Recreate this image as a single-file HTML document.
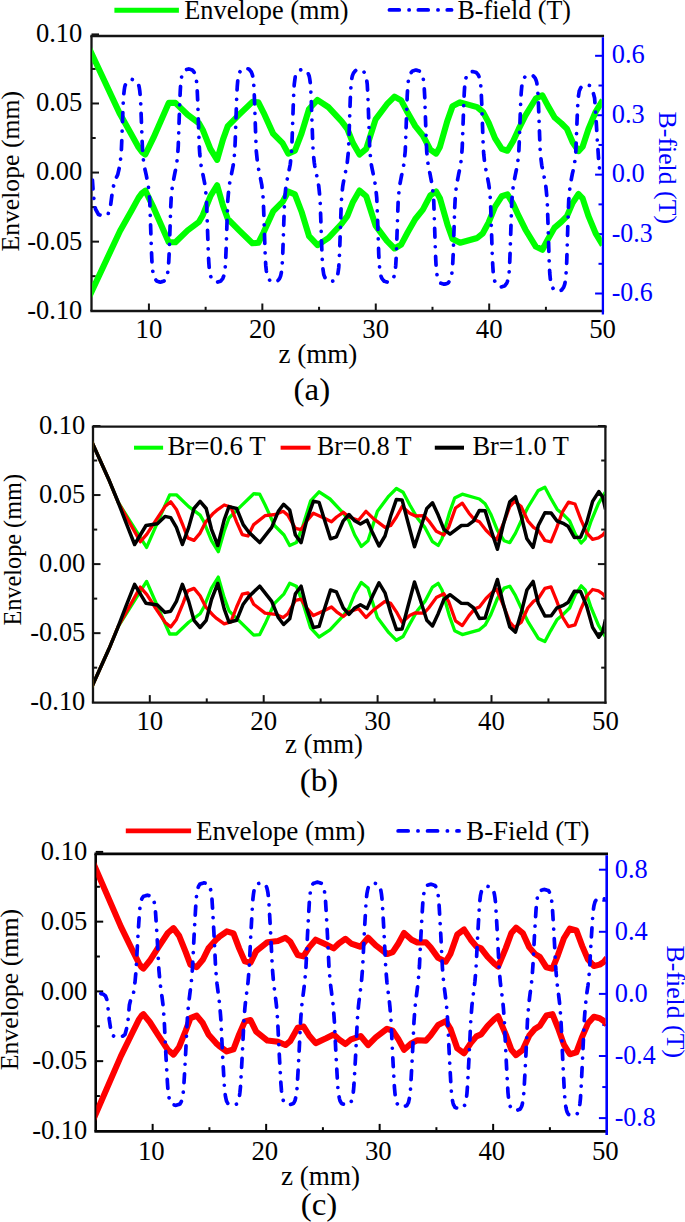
<!DOCTYPE html>
<html lang="en"><head><meta charset="utf-8"><title>Envelope and B-field</title>
<style>html,body{margin:0;padding:0;background:#fff}body{width:685px;height:1222px;overflow:hidden}svg{display:block}text{font-family:'Liberation Serif', 'DejaVu Serif', serif}</style>
</head><body>
<svg width="685" height="1222" viewBox="0 0 685 1222">
<rect width="685" height="1222" fill="#fff"/>
<g fill="none" stroke-linecap="butt">
<line x1="90.35" y1="36" x2="604.05" y2="36" stroke="#141414" stroke-width="2.3" />
<line x1="90.35" y1="311" x2="604.05" y2="311" stroke="#141414" stroke-width="2.3" />
<line x1="91.5" y1="36" x2="91.5" y2="311" stroke="#141414" stroke-width="2.3" />
<line x1="602.9" y1="37.15" x2="602.9" y2="314.55" stroke="#0000ff" stroke-width="2.3" />
<line x1="91.5" y1="34.4" x2="99" y2="34.4" stroke="#141414" stroke-width="2" />
<line x1="91.5" y1="68.94" x2="95.7" y2="68.94" stroke="#141414" stroke-width="2" />
<line x1="91.5" y1="103.48" x2="99" y2="103.48" stroke="#141414" stroke-width="2" />
<line x1="91.5" y1="138.02" x2="95.7" y2="138.02" stroke="#141414" stroke-width="2" />
<line x1="91.5" y1="172.56" x2="99" y2="172.56" stroke="#141414" stroke-width="2" />
<line x1="91.5" y1="207.1" x2="95.7" y2="207.1" stroke="#141414" stroke-width="2" />
<line x1="91.5" y1="241.64" x2="99" y2="241.64" stroke="#141414" stroke-width="2" />
<line x1="91.5" y1="276.18" x2="95.7" y2="276.18" stroke="#141414" stroke-width="2" />
<line x1="148.92" y1="311" x2="148.92" y2="303.5" stroke="#141414" stroke-width="2" />
<line x1="205.63" y1="311" x2="205.63" y2="306.8" stroke="#141414" stroke-width="2" />
<line x1="262.35" y1="311" x2="262.35" y2="303.5" stroke="#141414" stroke-width="2" />
<line x1="319.06" y1="311" x2="319.06" y2="306.8" stroke="#141414" stroke-width="2" />
<line x1="375.77" y1="311" x2="375.77" y2="303.5" stroke="#141414" stroke-width="2" />
<line x1="432.49" y1="311" x2="432.49" y2="306.8" stroke="#141414" stroke-width="2" />
<line x1="489.2" y1="311" x2="489.2" y2="303.5" stroke="#141414" stroke-width="2" />
<line x1="545.92" y1="311" x2="545.92" y2="306.8" stroke="#141414" stroke-width="2" />
<line x1="602.9" y1="55.8" x2="595.1" y2="55.8" stroke="#0000ff" stroke-width="2" />
<line x1="602.9" y1="85.52" x2="598.5" y2="85.52" stroke="#0000ff" stroke-width="2" />
<line x1="602.9" y1="115.23" x2="595.1" y2="115.23" stroke="#0000ff" stroke-width="2" />
<line x1="602.9" y1="144.94" x2="598.5" y2="144.94" stroke="#0000ff" stroke-width="2" />
<line x1="602.9" y1="174.66" x2="595.1" y2="174.66" stroke="#0000ff" stroke-width="2" />
<line x1="602.9" y1="204.38" x2="598.5" y2="204.38" stroke="#0000ff" stroke-width="2" />
<line x1="602.9" y1="234.09" x2="595.1" y2="234.09" stroke="#0000ff" stroke-width="2" />
<line x1="602.9" y1="263.81" x2="598.5" y2="263.81" stroke="#0000ff" stroke-width="2" />
<line x1="602.9" y1="293.52" x2="595.1" y2="293.52" stroke="#0000ff" stroke-width="2" />
</g>
<clipPath id="clipa"><rect x="92.2" y="37.1" width="509.6" height="272.8"/></clipPath>
<g clip-path="url(#clipa)" fill="none" stroke-linejoin="round">
<path d="M89 48 L120 114.1 L132 135.4 L138.5 147.2 L142 152 L145.3 154.5 L153.6 137.43 L168.73 102.92 L175.41 102.92 L187.65 114.72 L199.01 123.23 L202.79 129.93 L210.36 148.84 L217.13 159.84 L223.01 139.34 L227.79 126.13 L239.14 114.72 L252.39 101.82 L258.36 102.32 L263.64 112.82 L273.1 133.63 L282.56 143.14 L288.24 153.64 L294.91 150.74 L301.48 133.63 L309.05 109.02 L317.52 99.92 L328.37 107.12 L341.62 121.33 L347.29 128.93 L352.97 143.14 L359.54 154.54 L366.21 148.84 L375.58 119.43 L386.93 104.22 L394.5 96.62 L401.17 100.42 L407.74 112.82 L415.31 126.13 L422.88 135.53 L430.45 149.84 L436.12 153.64 L439.91 146.94 L447.48 120.43 L452.56 106.12 L460.13 102.32 L477.15 107.12 L482.83 111.82 L488.51 122.33 L495.08 138.44 L501.75 148.84 L507.43 150.74 L513.11 141.24 L518.78 128.93 L525.36 115.63 L535.81 98.52 L542.38 95.32 L548.06 106.12 L554.63 117.53 L561.31 123.23 L566.98 128.93 L572.66 142.24 L578.53 151.14 L582.62 146.74 L588.39 129.23 L595.66 111.72 L602.73 100.02" stroke="#00ff00" stroke-width="6.1"/>
<path d="M89 297.1 L120 231 L132 209.7 L138.5 197.9 L142 193.1 L145.3 190.6 L153.6 207.67 L168.73 242.18 L175.41 242.18 L187.65 230.38 L199.01 221.87 L202.79 215.17 L210.36 196.26 L217.13 185.26 L223.01 205.76 L227.79 218.97 L239.14 230.38 L252.39 243.28 L258.36 242.78 L263.64 232.28 L273.1 211.47 L282.56 201.96 L288.24 191.46 L294.91 194.36 L301.48 211.47 L309.05 236.08 L317.52 245.18 L328.37 237.98 L341.62 223.77 L347.29 216.17 L352.97 201.96 L359.54 190.56 L366.21 196.26 L375.58 225.67 L386.93 240.88 L394.5 248.48 L401.17 244.68 L407.74 232.28 L415.31 218.97 L422.88 209.57 L430.45 195.26 L436.12 191.46 L439.91 198.16 L447.48 224.67 L452.56 238.98 L460.13 242.78 L477.15 237.98 L482.83 233.28 L488.51 222.77 L495.08 206.66 L501.75 196.26 L507.43 194.36 L513.11 203.86 L518.78 216.17 L525.36 229.47 L535.81 246.58 L542.38 249.78 L548.06 238.98 L554.63 227.57 L561.31 221.87 L566.98 216.17 L572.66 202.86 L578.53 193.96 L582.62 198.36 L588.39 215.87 L595.66 233.38 L602.73 245.08" stroke="#00ff00" stroke-width="6.1"/>
<path d="M92.4 180 L93.5 196 L95.5 209 L98.5 214.5 L103 216 L108 214.5 L110.5 206 L112.6 190 L115 180 L117.75 174.7 L118.25 172.46 L118.75 170.23 L119.25 167.99 L119.75 165.75 L120.25 161.94 L120.75 157.58 L121.25 153.22 L121.75 141.13 L122.25 128.19 L122.75 114.81 L123.25 102.5 L123.75 94.45 L124.25 90.1 L124.75 86.74 L125.25 85.13 L125.75 83.96 L126.25 82.78 L126.75 82.2 L127.25 81.64 L127.75 81.08 L128.25 80.52 L128.75 80.26 L129.25 80.12 L129.75 79.99 L130.25 79.86 L130.75 79.72 L131.25 79.59 L131.75 79.45 L132.25 79.48 L132.75 79.61 L133.25 79.75 L133.75 79.88 L134.25 80.02 L134.75 80.15 L135.25 80.29 L135.75 80.63 L136.25 81.19 L136.75 81.75 L137.25 82.31 L137.75 83.02 L138.25 84.19 L138.75 85.37 L139.25 87.41 L139.75 90.77 L140.25 96.06 L140.75 104.11 L141.25 117.49 L141.75 130.78 L142.25 143.72 L142.75 154.09 L143.25 158.45 L143.75 162.81 L144.25 166.2 L144.75 168.44 L145.25 170.67 L145.75 172.91 L146.25 175.2 L146.75 177.73 L147.25 180.25 L147.75 182.78 L148.25 185.3 L148.75 190.08 L149.25 195 L149.75 200.89 L150.25 215.49 L150.75 230.15 L151.25 245.29 L151.75 257.96 L152.25 267.04 L152.75 270.89 L153.25 274.67 L153.75 276 L154.25 277.32 L154.75 278.54 L155.25 279.17 L155.75 279.8 L156.25 280.43 L156.75 281.06 L157.25 281.26 L157.75 281.41 L158.25 281.56 L158.75 281.72 L159.25 281.87 L159.75 282.02 L160.25 282.17 L160.75 282.08 L161.25 281.93 L161.75 281.78 L162.25 281.62 L162.75 281.47 L163.25 281.32 L163.75 281.17 L164.25 280.68 L164.75 280.05 L165.25 279.42 L165.75 278.79 L166.25 277.85 L166.75 276.53 L167.25 275.2 L167.75 272.4 L168.25 268.62 L168.75 261.59 L169.25 251.34 L169.75 236.2 L170.25 221.33 L170.75 206.73 L171.25 196.96 L171.75 192.04 L172.25 187.12 L172.75 183.78 L173.25 181.26 L173.75 178.74 L174.25 176.21 L174.75 173.71 L175.25 171.22 L175.75 168.74 L176.25 166.26 L176.75 163.44 L177.25 158.6 L177.75 153.76 L178.25 146.06 L178.75 131.69 L179.25 117.15 L179.75 102.25 L180.25 90.97 L180.75 83.01 L181.25 79.29 L181.75 76.05 L182.25 74.74 L182.75 73.44 L183.25 72.38 L183.75 71.76 L184.25 71.14 L184.75 70.52 L185.25 69.94 L185.75 69.79 L186.25 69.65 L186.75 69.5 L187.25 69.35 L187.75 69.2 L188.25 69.05 L188.75 68.9 L189.25 69.05 L189.75 69.2 L190.25 69.35 L190.75 69.5 L191.25 69.65 L191.75 69.79 L192.25 69.94 L192.75 70.52 L193.25 71.14 L193.75 71.76 L194.25 72.38 L194.75 73.44 L195.25 74.74 L195.75 76.05 L196.25 79.29 L196.75 83.01 L197.25 90.97 L197.75 102.25 L198.25 117.15 L198.75 131.69 L199.25 146.06 L199.75 153.76 L200.25 158.6 L200.75 163.44 L201.25 166.26 L201.75 168.74 L202.25 171.22 L202.75 173.71 L203.25 176.21 L203.75 178.74 L204.25 181.26 L204.75 183.78 L205.25 187.12 L205.75 192.04 L206.25 196.96 L206.75 206.73 L207.25 221.33 L207.75 236.2 L208.25 251.34 L208.75 261.59 L209.25 268.62 L209.75 272.4 L210.25 275.2 L210.75 276.53 L211.25 277.85 L211.75 278.79 L212.25 279.42 L212.75 280.05 L213.25 280.68 L213.75 281.17 L214.25 281.32 L214.75 281.47 L215.25 281.62 L215.75 281.78 L216.25 281.93 L216.75 282.08 L217.25 282.17 L217.75 282.02 L218.25 281.87 L218.75 281.72 L219.25 281.56 L219.75 281.41 L220.25 281.26 L220.75 281.06 L221.25 280.43 L221.75 279.8 L222.25 279.17 L222.75 278.54 L223.25 277.32 L223.75 276 L224.25 274.68 L224.75 270.89 L225.25 267.04 L225.75 257.96 L226.25 245.29 L226.75 230.15 L227.25 215.49 L227.75 200.89 L228.25 195 L228.75 190.08 L229.25 185.3 L229.75 182.78 L230.25 180.25 L230.75 177.73 L231.25 175.2 L231.75 172.7 L232.25 170.2 L232.75 167.69 L233.25 165.19 L233.75 161.41 L234.25 156.53 L234.75 151.65 L235.25 140.05 L235.75 125.57 L236.25 110.71 L236.75 95.74 L237.25 86.74 L237.75 80.82 L238.25 77.06 L238.75 74.77 L239.25 73.46 L239.75 72.15 L240.25 71.36 L240.75 70.73 L241.25 70.1 L241.75 69.48 L242.25 69.09 L242.75 68.94 L243.25 68.79 L243.75 68.64 L244.25 68.49 L244.75 68.34 L245.25 68.19 L245.75 68.16 L246.25 68.31 L246.75 68.46 L247.25 68.61 L247.75 68.76 L248.25 68.91 L248.75 69.06 L249.25 69.35 L249.75 69.98 L250.25 70.6 L250.75 71.23 L251.25 71.88 L251.75 73.2 L252.25 74.51 L252.75 76.31 L253.25 80.07 L253.75 84.93 L254.25 93.94 L254.75 107.71 L255.25 122.67 L255.75 137.15 L256.25 150.67 L256.75 155.55 L257.25 160.43 L257.75 164.69 L258.25 167.19 L258.75 169.7 L259.25 172.2 L259.75 174.7 L260.25 177.22 L260.75 179.75 L261.25 182.27 L261.75 184.79 L262.25 189.09 L262.75 194.01 L263.25 198.93 L263.75 212.57 L264.25 227.17 L264.75 242.26 L265.25 256.14 L265.75 265.22 L266.25 270.13 L266.75 273.92 L267.25 275.73 L267.75 277.06 L268.25 278.38 L268.75 279.04 L269.25 279.67 L269.75 280.3 L270.25 280.94 L270.75 281.23 L271.25 281.38 L271.75 281.53 L272.25 281.69 L272.75 281.84 L273.25 281.99 L273.75 282.14 L274.25 282.11 L274.75 281.96 L275.25 281.81 L275.75 281.65 L276.25 281.5 L276.75 281.35 L277.25 281.2 L277.75 280.81 L278.25 280.18 L278.75 279.55 L279.25 278.92 L279.75 278.12 L280.25 276.79 L280.75 275.47 L281.25 273.16 L281.75 269.38 L282.25 263.41 L282.75 254.32 L283.25 239.23 L283.75 224.25 L284.25 209.65 L284.75 197.95 L285.25 193.03 L285.75 188.11 L286.25 184.29 L286.75 181.77 L287.25 179.24 L287.75 176.72 L288.25 174.21 L288.75 171.73 L289.25 169.26 L289.75 166.79 L290.25 164.32 L290.75 159.64 L291.25 154.82 L291.75 149.05 L292.25 134.75 L292.75 120.39 L293.25 105.56 L293.75 93.15 L294.25 84.25 L294.75 80.48 L295.25 76.77 L295.75 75.47 L296.25 74.18 L296.75 72.99 L297.25 72.37 L297.75 71.75 L298.25 71.13 L298.75 70.51 L299.25 70.32 L299.75 70.17 L300.25 70.02 L300.75 69.87 L301.25 69.73 L301.75 69.58 L302.25 69.43 L302.75 69.52 L303.25 69.67 L303.75 69.82 L304.25 69.96 L304.75 70.11 L305.25 70.26 L305.75 70.41 L306.25 70.89 L306.75 71.5 L307.25 72.12 L307.75 72.74 L308.25 73.66 L308.75 74.95 L309.25 76.25 L309.75 79 L310.25 82.7 L310.75 89.59 L311.25 99.63 L311.75 114.46 L312.25 129.03 L312.75 143.33 L313.25 152.89 L313.75 157.71 L314.25 162.53 L314.75 165.8 L315.25 168.27 L315.75 170.75 L316.25 173.22 L316.75 175.7 L317.25 178.22 L317.75 180.73 L318.25 183.24 L318.75 186.09 L319.25 190.98 L319.75 195.88 L320.25 203.67 L320.75 218.2 L321.25 232.9 L321.75 247.97 L322.25 259.38 L322.75 267.43 L323.25 271.2 L323.75 274.47 L324.25 275.79 L324.75 277.11 L325.25 278.18 L325.75 278.81 L326.25 279.44 L326.75 280.06 L327.25 280.65 L327.75 280.8 L328.25 280.95 L328.75 281.1 L329.25 281.25 L329.75 281.4 L330.25 281.55 L330.75 281.7 L331.25 281.55 L331.75 281.4 L332.25 281.25 L332.75 281.1 L333.25 280.95 L333.75 280.8 L334.25 280.65 L334.75 280.06 L335.25 279.44 L335.75 278.81 L336.25 278.18 L336.75 277.11 L337.25 275.79 L337.75 274.47 L338.25 271.2 L338.75 267.43 L339.25 259.38 L339.75 247.97 L340.25 232.9 L340.75 218.2 L341.25 203.67 L341.75 195.88 L342.25 190.98 L342.75 186.09 L343.25 183.24 L343.75 180.73 L344.25 178.22 L344.75 175.7 L345.25 173.22 L345.75 170.75 L346.25 168.27 L346.75 165.8 L347.25 162.53 L347.75 157.71 L348.25 152.89 L348.75 143.33 L349.25 129.03 L349.75 114.46 L350.25 99.63 L350.75 89.59 L351.25 82.7 L351.75 79 L352.25 76.25 L352.75 74.95 L353.25 73.66 L353.75 72.74 L354.25 72.12 L354.75 71.5 L355.25 70.89 L355.75 70.41 L356.25 70.26 L356.75 70.11 L357.25 69.96 L357.75 69.82 L358.25 69.67 L358.75 69.52 L359.25 69.43 L359.75 69.58 L360.25 69.73 L360.75 69.87 L361.25 70.02 L361.75 70.17 L362.25 70.32 L362.75 70.51 L363.25 71.13 L363.75 71.75 L364.25 72.37 L364.75 72.99 L365.25 74.18 L365.75 75.47 L366.25 76.77 L366.75 80.48 L367.25 84.25 L367.75 93.15 L368.25 105.56 L368.75 120.39 L369.25 134.75 L369.75 149.05 L370.25 154.82 L370.75 159.64 L371.25 164.32 L371.75 166.79 L372.25 169.26 L372.75 171.73 L373.25 174.21 L373.75 176.72 L374.25 179.24 L374.75 181.77 L375.25 184.29 L375.75 188.11 L376.25 193.03 L376.75 197.95 L377.25 209.65 L377.75 224.25 L378.25 239.23 L378.75 254.32 L379.25 263.41 L379.75 269.38 L380.25 273.16 L380.75 275.47 L381.25 276.79 L381.75 278.12 L382.25 278.92 L382.75 279.55 L383.25 280.18 L383.75 280.81 L384.25 281.2 L384.75 281.35 L385.25 281.5 L385.75 281.65 L386.25 281.81 L386.75 281.96 L387.25 282.11 L387.75 282.14 L388.25 281.99 L388.75 281.84 L389.25 281.69 L389.75 281.53 L390.25 281.38 L390.75 281.23 L391.25 280.94 L391.75 280.3 L392.25 279.67 L392.75 279.04 L393.25 278.38 L393.75 277.06 L394.25 275.73 L394.75 273.92 L395.25 270.13 L395.75 265.22 L396.25 256.14 L396.75 242.26 L397.25 227.17 L397.75 212.57 L398.25 198.93 L398.75 194.01 L399.25 189.09 L399.75 184.79 L400.25 182.27 L400.75 179.75 L401.25 177.22 L401.75 174.7 L402.25 172.24 L402.75 169.78 L403.25 167.33 L403.75 164.87 L404.25 160.68 L404.75 155.89 L405.25 151.1 L405.75 137.82 L406.25 123.6 L406.75 108.9 L407.25 95.38 L407.75 86.53 L408.25 81.75 L408.75 78.07 L409.25 76.3 L409.75 75.01 L410.25 73.72 L410.75 73.07 L411.25 72.46 L411.75 71.85 L412.25 71.23 L412.75 70.94 L413.25 70.8 L413.75 70.65 L414.25 70.5 L414.75 70.35 L415.25 70.21 L415.75 70.06 L416.25 70.09 L416.75 70.24 L417.25 70.38 L417.75 70.53 L418.25 70.68 L418.75 70.83 L419.25 70.97 L419.75 71.35 L420.25 71.97 L420.75 72.58 L421.25 73.2 L421.75 73.97 L422.25 75.26 L422.75 76.55 L423.25 78.8 L423.75 82.49 L424.25 88.3 L424.75 97.15 L425.25 111.85 L425.75 126.45 L426.25 140.67 L426.75 152.06 L427.25 156.85 L427.75 161.64 L428.25 165.36 L428.75 167.82 L429.25 170.28 L429.75 172.73 L430.25 175.21 L430.75 177.79 L431.25 180.36 L431.75 182.93 L432.25 185.51 L432.75 190.38 L433.25 195.39 L433.75 201.4 L434.25 216.28 L434.75 231.23 L435.25 246.67 L435.75 259.58 L436.25 268.84 L436.75 272.77 L437.25 276.63 L437.75 277.98 L438.25 279.33 L438.75 280.57 L439.25 281.21 L439.75 281.85 L440.25 282.5 L440.75 283.14 L441.25 283.34 L441.75 283.5 L442.25 283.65 L442.75 283.81 L443.25 283.96 L443.75 284.11 L444.25 284.27 L444.75 284.18 L445.25 284.02 L445.75 283.87 L446.25 283.71 L446.75 283.56 L447.25 283.4 L447.75 283.25 L448.25 282.75 L448.75 282.11 L449.25 281.47 L449.75 280.82 L450.25 279.87 L450.75 278.52 L451.25 277.17 L451.75 274.31 L452.25 270.45 L452.75 263.29 L453.25 252.84 L453.75 237.4 L454.25 222.24 L454.75 207.35 L455.25 197.4 L455.75 192.38 L456.25 187.37 L456.75 183.96 L457.25 181.39 L457.75 178.82 L458.25 176.24 L458.75 173.73 L459.25 171.31 L459.75 168.89 L460.25 166.46 L460.75 163.72 L461.25 158.99 L461.75 154.27 L462.25 146.76 L462.75 132.74 L463.25 118.57 L463.75 104.03 L464.25 93.03 L464.75 85.26 L465.25 81.63 L465.75 78.47 L466.25 77.2 L466.75 75.93 L467.25 74.89 L467.75 74.29 L468.25 73.68 L468.75 73.08 L469.25 72.52 L469.75 72.37 L470.25 72.23 L470.75 72.08 L471.25 71.94 L471.75 71.79 L472.25 71.65 L472.75 71.5 L473.25 71.65 L473.75 71.79 L474.25 71.94 L474.75 72.08 L475.25 72.23 L475.75 72.37 L476.25 72.52 L476.75 73.08 L477.25 73.68 L477.75 74.29 L478.25 74.89 L478.75 75.93 L479.25 77.2 L479.75 78.47 L480.25 81.63 L480.75 85.26 L481.25 93.03 L481.75 104.03 L482.25 118.57 L482.75 132.74 L483.25 146.76 L483.75 154.27 L484.25 158.99 L484.75 163.72 L485.25 166.46 L485.75 168.89 L486.25 171.31 L486.75 173.73 L487.25 176.28 L487.75 178.92 L488.25 181.55 L488.75 184.19 L489.25 187.68 L489.75 192.82 L490.25 197.96 L490.75 208.16 L491.25 223.41 L491.75 238.95 L492.25 254.77 L492.75 265.47 L493.25 272.81 L493.75 276.77 L494.25 279.69 L494.75 281.08 L495.25 282.46 L495.75 283.44 L496.25 284.1 L496.75 284.76 L497.25 285.42 L497.75 285.92 L498.25 286.08 L498.75 286.24 L499.25 286.4 L499.75 286.56 L500.25 286.72 L500.75 286.87 L501.25 286.97 L501.75 286.81 L502.25 286.65 L502.75 286.49 L503.25 286.34 L503.75 286.18 L504.25 286.02 L504.75 285.81 L505.25 285.15 L505.75 284.49 L506.25 283.83 L506.75 283.17 L507.25 281.91 L507.75 280.52 L508.25 279.14 L508.75 275.18 L509.25 271.16 L509.75 261.67 L510.25 248.44 L510.75 232.62 L511.25 217.31 L511.75 202.05 L512.25 195.9 L512.75 190.76 L513.25 185.77 L513.75 183.14 L514.25 180.5 L514.75 177.86 L515.25 175.23 L515.75 172.82 L516.25 170.47 L516.75 168.13 L517.25 165.78 L517.75 162.23 L518.25 157.65 L518.75 153.07 L519.25 142.19 L519.75 128.61 L520.25 114.67 L520.75 100.63 L521.25 92.18 L521.75 86.63 L522.25 83.11 L522.75 80.96 L523.25 79.73 L523.75 78.5 L524.25 77.75 L524.75 77.17 L525.25 76.58 L525.75 75.99 L526.25 75.63 L526.75 75.49 L527.25 75.35 L527.75 75.21 L528.25 75.07 L528.75 74.93 L529.25 74.78 L529.75 74.76 L530.25 74.9 L530.75 75.04 L531.25 75.18 L531.75 75.32 L532.25 75.46 L532.75 75.6 L533.25 75.88 L533.75 76.46 L534.25 77.05 L534.75 77.64 L535.25 78.25 L535.75 79.48 L536.25 80.71 L536.75 82.4 L537.25 85.93 L537.75 90.49 L538.25 98.94 L538.75 111.85 L539.25 125.9 L539.75 139.48 L540.25 152.16 L540.75 156.74 L541.25 161.31 L541.75 165.31 L542.25 167.66 L542.75 170.01 L543.25 172.35 L543.75 174.7 L544.25 177.44 L544.75 180.18 L545.25 182.92 L545.75 185.66 L546.25 190.32 L546.75 195.66 L547.25 201.01 L547.75 215.81 L548.25 231.66 L548.75 248.04 L549.25 263.11 L549.75 272.97 L550.25 278.3 L550.75 282.41 L551.25 284.38 L551.75 285.82 L552.25 287.26 L552.75 287.97 L553.25 288.66 L553.75 289.34 L554.25 290.03 L554.75 290.35 L555.25 290.51 L555.75 290.68 L556.25 290.84 L556.75 291.01 L557.25 291.17 L557.75 291.33 L558.25 291.3 L558.75 291.14 L559.25 290.97 L559.75 290.81 L560.25 290.64 L560.75 290.48 L561.25 290.32 L561.75 289.89 L562.25 289.21 L562.75 288.52 L563.25 287.84 L563.75 286.97 L564.25 285.53 L564.75 284.09 L565.25 281.59 L565.75 277.48 L566.25 271 L566.75 261.14 L567.25 244.75 L567.75 228.49 L568.25 212.64 L568.75 199.94 L569.25 194.6 L569.75 189.25 L570.25 185.11 L570.75 182.37 L571.25 179.63 L571.75 176.89 L572.25 174.28 L572.75 172.16 L573.25 170.05 L573.75 167.94 L574.25 165.83 L574.75 161.83 L575.25 157.71 L575.75 152.78 L576.25 140.55 L576.75 128.28 L577.25 115.6 L577.75 105 L578.25 97.39 L578.75 94.17 L579.25 91 L579.75 89.89 L580.25 88.78 L580.75 87.77 L581.25 87.24 L581.75 86.71 L582.25 86.18 L582.75 85.65 L583.25 85.49 L583.75 85.36 L584.25 85.23 L584.75 85.11 L585.25 84.98 L585.75 84.85 L586.25 84.73 L586.75 84.8 L587.25 84.93 L587.75 85.05 L588.25 85.18 L588.75 85.31 L589.25 85.44 L589.75 85.56 L590.25 85.97 L590.75 86.5 L592.5 90 L594.6 98 L596 118 L597.3 140 L598.5 158 L599.6 169.5" stroke="#0000ff" stroke-width="3.7" stroke-dasharray="9 9.5 0.01 9.5" stroke-linecap="round"/>
</g>
<text x="82.3" y="42.3" font-size="27" text-anchor="end" fill="#000" textLength="46.4" lengthAdjust="spacingAndGlyphs" >0.10</text>
<text x="82.3" y="111.38" font-size="27" text-anchor="end" fill="#000" textLength="46.4" lengthAdjust="spacingAndGlyphs" >0.05</text>
<text x="82.3" y="180.46" font-size="27" text-anchor="end" fill="#000" textLength="46.4" lengthAdjust="spacingAndGlyphs" >0.00</text>
<text x="82.3" y="249.54" font-size="27" text-anchor="end" fill="#000" textLength="55" lengthAdjust="spacingAndGlyphs" >-0.05</text>
<text x="82.3" y="318.62" font-size="27" text-anchor="end" fill="#000" textLength="55" lengthAdjust="spacingAndGlyphs" >-0.10</text>
<text x="148.92" y="338.3" font-size="27" text-anchor="middle" fill="#000" textLength="26.8" lengthAdjust="spacingAndGlyphs" >10</text>
<text x="262.35" y="338.3" font-size="27" text-anchor="middle" fill="#000" textLength="26.8" lengthAdjust="spacingAndGlyphs" >20</text>
<text x="375.77" y="338.3" font-size="27" text-anchor="middle" fill="#000" textLength="26.8" lengthAdjust="spacingAndGlyphs" >30</text>
<text x="489.2" y="338.3" font-size="27" text-anchor="middle" fill="#000" textLength="26.8" lengthAdjust="spacingAndGlyphs" >40</text>
<text x="602.63" y="338.3" font-size="27" text-anchor="middle" fill="#000" textLength="26.8" lengthAdjust="spacingAndGlyphs" >50</text>
<text x="611.7" y="63.4" font-size="27" text-anchor="start" fill="#0000ff" textLength="33" lengthAdjust="spacingAndGlyphs" >0.6</text>
<text x="611.7" y="122.83" font-size="27" text-anchor="start" fill="#0000ff" textLength="33" lengthAdjust="spacingAndGlyphs" >0.3</text>
<text x="611.7" y="182.26" font-size="27" text-anchor="start" fill="#0000ff" textLength="33" lengthAdjust="spacingAndGlyphs" >0.0</text>
<text x="611.7" y="241.69" font-size="27" text-anchor="start" fill="#0000ff" textLength="41" lengthAdjust="spacingAndGlyphs" >-0.3</text>
<text x="611.7" y="301.12" font-size="27" text-anchor="start" fill="#0000ff" textLength="41" lengthAdjust="spacingAndGlyphs" >-0.6</text>
<line x1="114.4" y1="10.2" x2="178.9" y2="10.2" stroke="#00ff00" stroke-width="5" />
<text x="184.3" y="19" font-size="26.3" text-anchor="start" fill="#000" textLength="164.3" lengthAdjust="spacingAndGlyphs" >Envelope (mm)</text>
<path d="M389.5 9.9 H451.5" fill="none" stroke="#0000ff" stroke-width="3.9" stroke-dasharray="9.7 9.9 0.01 9.3" stroke-linecap="round"/>
<text x="457.4" y="19" font-size="26.3" text-anchor="start" fill="#000" textLength="113.6" lengthAdjust="spacingAndGlyphs" >B-field (T)</text>
<text transform="translate(19.3 171.3) rotate(-90)" font-size="25.3" text-anchor="middle" fill="#000" textLength="160.5" lengthAdjust="spacingAndGlyphs">Envelope (mm)</text>
<text transform="translate(659.4 167.8) rotate(90)" font-size="25.3" text-anchor="middle" fill="#0000ff" textLength="112.4" lengthAdjust="spacingAndGlyphs">B-field (T)</text>
<text x="317.9" y="362.5" font-size="26.3" text-anchor="middle" fill="#000" textLength="79" lengthAdjust="spacingAndGlyphs" >z (mm)</text>
<text x="311.9" y="400.2" font-size="32" text-anchor="middle" fill="#000" textLength="36.6" lengthAdjust="spacingAndGlyphs" >(a)</text>
<g fill="none" stroke-linecap="butt">
<line x1="91.85" y1="426.7" x2="606.55" y2="426.7" stroke="#141414" stroke-width="2.3" />
<line x1="91.85" y1="702.6" x2="606.55" y2="702.6" stroke="#141414" stroke-width="2.3" />
<line x1="93" y1="426.7" x2="93" y2="702.6" stroke="#141414" stroke-width="2.3" />
<line x1="605.4" y1="425.55" x2="605.4" y2="703.75" stroke="#141414" stroke-width="2.3" />
<line x1="93" y1="426" x2="100.5" y2="426" stroke="#141414" stroke-width="2" />
<line x1="605.4" y1="426" x2="597.9" y2="426" stroke="#141414" stroke-width="2" />
<line x1="93" y1="460.52" x2="97.2" y2="460.52" stroke="#141414" stroke-width="2" />
<line x1="605.4" y1="460.52" x2="601.2" y2="460.52" stroke="#141414" stroke-width="2" />
<line x1="93" y1="495.05" x2="100.5" y2="495.05" stroke="#141414" stroke-width="2" />
<line x1="605.4" y1="495.05" x2="597.9" y2="495.05" stroke="#141414" stroke-width="2" />
<line x1="93" y1="529.58" x2="97.2" y2="529.58" stroke="#141414" stroke-width="2" />
<line x1="605.4" y1="529.58" x2="601.2" y2="529.58" stroke="#141414" stroke-width="2" />
<line x1="93" y1="564.1" x2="100.5" y2="564.1" stroke="#141414" stroke-width="2" />
<line x1="605.4" y1="564.1" x2="597.9" y2="564.1" stroke="#141414" stroke-width="2" />
<line x1="93" y1="598.62" x2="97.2" y2="598.62" stroke="#141414" stroke-width="2" />
<line x1="605.4" y1="598.62" x2="601.2" y2="598.62" stroke="#141414" stroke-width="2" />
<line x1="93" y1="633.15" x2="100.5" y2="633.15" stroke="#141414" stroke-width="2" />
<line x1="605.4" y1="633.15" x2="597.9" y2="633.15" stroke="#141414" stroke-width="2" />
<line x1="93" y1="667.67" x2="97.2" y2="667.67" stroke="#141414" stroke-width="2" />
<line x1="605.4" y1="667.67" x2="601.2" y2="667.67" stroke="#141414" stroke-width="2" />
<line x1="149.8" y1="702.6" x2="149.8" y2="695.1" stroke="#141414" stroke-width="2" />
<line x1="206.75" y1="702.6" x2="206.75" y2="698.4" stroke="#141414" stroke-width="2" />
<line x1="263.7" y1="702.6" x2="263.7" y2="695.1" stroke="#141414" stroke-width="2" />
<line x1="320.65" y1="702.6" x2="320.65" y2="698.4" stroke="#141414" stroke-width="2" />
<line x1="377.6" y1="702.6" x2="377.6" y2="695.1" stroke="#141414" stroke-width="2" />
<line x1="434.55" y1="702.6" x2="434.55" y2="698.4" stroke="#141414" stroke-width="2" />
<line x1="491.5" y1="702.6" x2="491.5" y2="695.1" stroke="#141414" stroke-width="2" />
<line x1="548.45" y1="702.6" x2="548.45" y2="698.4" stroke="#141414" stroke-width="2" />
</g>
<clipPath id="clipb"><rect x="93.7" y="427.8" width="510.6" height="273.7"/></clipPath>
<g clip-path="url(#clipb)" fill="none" stroke-linejoin="round">
<path d="M90 437.7 L92.9 444.2 L109 480 L118 502 L146.6 547.4 L154.5 529.3 L169.7 494.8 L176.4 494.8 L188.7 506.6 L200.1 515.1 L203.9 521.8 L211.5 540.7 L218.3 551.7 L224.2 531.2 L229 518 L240.4 506.6 L253.7 493.7 L259.7 494.2 L265 504.7 L274.5 525.5 L284 535 L289.7 545.5 L296.4 542.6 L303 525.5 L310.6 500.9 L319.1 491.8 L330 499 L343.3 513.2 L349 520.8 L354.7 535 L361.3 546.4 L368 540.7 L377.4 511.3 L388.8 496.1 L396.4 488.5 L403.1 492.3 L409.7 504.7 L417.3 518 L424.9 527.4 L432.5 541.7 L438.2 545.5 L442 538.8 L449.6 512.3 L454.7 498 L462.3 494.2 L479.4 499 L485.1 503.7 L490.8 514.2 L497.4 530.3 L504.1 540.7 L509.8 542.6 L515.5 533.1 L521.2 520.8 L527.8 507.5 L538.3 490.4 L544.9 487.2 L550.6 498 L557.2 509.4 L563.9 515.1 L569.6 520.8 L575.3 534.1 L581.2 543 L585.3 538.6 L591.1 521.1 L598.4 503.6 L605.5 491.9" stroke="#00ff00" stroke-width="3.3"/>
<path d="M90 691.1 L92.9 684.6 L109 648.8 L118 626.8 L146.6 581.4 L154.5 599.5 L169.7 634 L176.4 634 L188.7 622.2 L200.1 613.7 L203.9 607 L211.5 588.1 L218.3 577.1 L224.2 597.6 L229 610.8 L240.4 622.2 L253.7 635.1 L259.7 634.6 L265 624.1 L274.5 603.3 L284 593.8 L289.7 583.3 L296.4 586.2 L303 603.3 L310.6 627.9 L319.1 637 L330 629.8 L343.3 615.6 L349 608 L354.7 593.8 L361.3 582.4 L368 588.1 L377.4 617.5 L388.8 632.7 L396.4 640.3 L403.1 636.5 L409.7 624.1 L417.3 610.8 L424.9 601.4 L432.5 587.1 L438.2 583.3 L442 590 L449.6 616.5 L454.7 630.8 L462.3 634.6 L479.4 629.8 L485.1 625.1 L490.8 614.6 L497.4 598.5 L504.1 588.1 L509.8 586.2 L515.5 595.7 L521.2 608 L527.8 621.3 L538.3 638.4 L544.9 641.6 L550.6 630.8 L557.2 619.4 L563.9 613.7 L569.6 608 L575.3 594.7 L581.2 585.8 L585.3 590.2 L591.1 607.7 L598.4 625.2 L605.5 636.9" stroke="#00ff00" stroke-width="3.3"/>
<path d="M90 437.7 L92.9 444.2 L109 480 L118 502 L140.3 541.7 L146.9 534.1 L155.5 520.8 L165 506.6 L170.7 501.8 L176.4 509.4 L183 525.5 L187.7 537.9 L194 540.4 L200.1 533.1 L205.8 521.8 L213.4 513.2 L216.6 510.4 L224.2 505 L230.9 507 L236.6 521.8 L242.3 534.7 L248 536 L253.7 524.6 L265 515.7 L275.5 514.5 L283.1 511.3 L287.8 515.1 L295.4 528.4 L301.1 529.7 L306.8 520.8 L313.4 513.2 L323.9 518 L331.5 521.8 L336.6 517 L343.3 512.3 L349 517 L358.5 520.2 L366 511.3 L373.7 518.9 L385 527.4 L390.7 525.5 L396.4 517 L402.1 506.6 L409.7 513.2 L415.4 516 L424 515.7 L428.7 520.8 L436.3 531.2 L443.9 535 L448.6 527.4 L455.5 508 L462.3 503.2 L469 513.2 L474.7 519.9 L479.4 521.8 L486 530.3 L492.7 536.9 L496.5 539.8 L504.1 521.8 L509.8 506.6 L514.5 501.3 L521.2 506.6 L527.8 520.8 L533.5 527.4 L538.3 530.3 L544.9 540.5 L551 541.9 L556.5 528.4 L562.5 511.8 L568.5 502.2 L575 504 L580.9 519.6 L586.7 532.8 L592.6 539.3 L598.4 537.9 L602.8 535 L605.7 531.3" stroke="#ff0000" stroke-width="3.3"/>
<path d="M90 691.1 L92.9 684.6 L109 648.8 L118 626.8 L140.3 587.1 L146.9 594.7 L155.5 608 L165 622.2 L170.7 627 L176.4 619.4 L183 603.3 L187.7 590.9 L194 588.4 L200.1 595.7 L205.8 607 L213.4 615.6 L216.6 618.4 L224.2 623.8 L230.9 621.8 L236.6 607 L242.3 594.1 L248 592.8 L253.7 604.2 L265 613.1 L275.5 614.3 L283.1 617.5 L287.8 613.7 L295.4 600.4 L301.1 599.1 L306.8 608 L313.4 615.6 L323.9 610.8 L331.5 607 L336.6 611.8 L343.3 616.5 L349 611.8 L358.5 608.6 L366 617.5 L373.7 609.9 L385 601.4 L390.7 603.3 L396.4 611.8 L402.1 622.2 L409.7 615.6 L415.4 612.8 L424 613.1 L428.7 608 L436.3 597.6 L443.9 593.8 L448.6 601.4 L455.5 620.8 L462.3 625.6 L469 615.6 L474.7 608.9 L479.4 607 L486 598.5 L492.7 591.9 L496.5 589 L504.1 607 L509.8 622.2 L514.5 627.5 L521.2 622.2 L527.8 608 L533.5 601.4 L538.3 598.5 L544.9 588.3 L551 586.9 L556.5 600.4 L562.5 617 L568.5 626.6 L575 624.8 L580.9 609.2 L586.7 596 L592.6 589.5 L598.4 590.9 L602.8 593.8 L605.7 597.5" stroke="#ff0000" stroke-width="3.3"/>
<path d="M90 437.7 L92.9 444.2 L109 480 L117.5 500.5 L126 522.6 L134.6 544.5 L146 525.5 L157.4 523.7 L165 516.4 L170.7 517.6 L176.4 527.4 L182.4 544.5 L188.7 527.4 L194 508.5 L200.1 501.3 L206.2 508.5 L211.5 529.3 L217.8 545.5 L224.2 519.9 L229 506.6 L236.6 508.5 L243.2 524.6 L248.9 532.2 L259.7 542.6 L271.7 527.4 L278.3 511.3 L283.6 504.3 L289.7 510 L295.4 535 L301.1 542.6 L306.8 519.9 L313.4 501.3 L319.1 502.4 L323.9 518 L330.5 538.8 L336.4 536.9 L343.3 520.8 L349 514.5 L354.7 520.8 L360.4 524 L367 520.2 L372.7 533.1 L379 546 L385 536 L390.7 516 L396.4 499.4 L402.1 499.9 L407.8 521.8 L414.5 546.8 L420.2 529.3 L426.8 508.5 L432.5 502.8 L438.2 515.1 L443.9 529.3 L450 534.1 L461.4 525.5 L468 525.2 L473.7 520.8 L479.4 510.4 L485.1 510.7 L490.8 529.3 L497.4 549.3 L503.5 524 L509.8 501.8 L515.5 496.7 L521.2 516 L526.9 538.8 L533.1 547.4 L538.3 525.5 L544.9 512.8 L551.2 513.1 L557 521 L563.9 523.7 L568 526.2 L574.3 537.5 L580.6 537.2 L586.7 522.6 L592.6 501.4 L598.8 491.6 L602.7 497 L605.5 509.4" stroke="#000" stroke-width="3.5"/>
<path d="M90 691.1 L92.9 684.6 L109 648.8 L117.5 628.3 L126 606.2 L134.6 584.3 L146 603.3 L157.4 605.1 L165 612.4 L170.7 611.2 L176.4 601.4 L182.4 584.3 L188.7 601.4 L194 620.3 L200.1 627.5 L206.2 620.3 L211.5 599.5 L217.8 583.3 L224.2 608.9 L229 622.2 L236.6 620.3 L243.2 604.2 L248.9 596.6 L259.7 586.2 L271.7 601.4 L278.3 617.5 L283.6 624.5 L289.7 618.8 L295.4 593.8 L301.1 586.2 L306.8 608.9 L313.4 627.5 L319.1 626.4 L323.9 610.8 L330.5 590 L336.4 591.9 L343.3 608 L349 614.3 L354.7 608 L360.4 604.8 L367 608.6 L372.7 595.7 L379 582.8 L385 592.8 L390.7 612.8 L396.4 629.4 L402.1 628.9 L407.8 607 L414.5 582 L420.2 599.5 L426.8 620.3 L432.5 626 L438.2 613.7 L443.9 599.5 L450 594.7 L461.4 603.3 L468 603.6 L473.7 608 L479.4 618.4 L485.1 618.1 L490.8 599.5 L497.4 579.5 L503.5 604.8 L509.8 627 L515.5 632.1 L521.2 612.8 L526.9 590 L533.1 581.4 L538.3 603.3 L544.9 616 L551.2 615.7 L557 607.8 L563.9 605.1 L568 602.6 L574.3 591.3 L580.6 591.6 L586.7 606.2 L592.6 627.4 L598.8 637.2 L602.7 631.8 L605.5 619.4" stroke="#000" stroke-width="3.5"/>
</g>
<text x="85.3" y="434" font-size="27" text-anchor="end" fill="#000" textLength="46.4" lengthAdjust="spacingAndGlyphs" >0.10</text>
<text x="85.3" y="503.05" font-size="27" text-anchor="end" fill="#000" textLength="46.4" lengthAdjust="spacingAndGlyphs" >0.05</text>
<text x="85.3" y="572.1" font-size="27" text-anchor="end" fill="#000" textLength="46.4" lengthAdjust="spacingAndGlyphs" >0.00</text>
<text x="85.3" y="641.15" font-size="27" text-anchor="end" fill="#000" textLength="55" lengthAdjust="spacingAndGlyphs" >-0.05</text>
<text x="85.3" y="710.2" font-size="27" text-anchor="end" fill="#000" textLength="55" lengthAdjust="spacingAndGlyphs" >-0.10</text>
<text x="149.8" y="729.9" font-size="27" text-anchor="middle" fill="#000" textLength="26.8" lengthAdjust="spacingAndGlyphs" >10</text>
<text x="263.7" y="729.9" font-size="27" text-anchor="middle" fill="#000" textLength="26.8" lengthAdjust="spacingAndGlyphs" >20</text>
<text x="377.6" y="729.9" font-size="27" text-anchor="middle" fill="#000" textLength="26.8" lengthAdjust="spacingAndGlyphs" >30</text>
<text x="491.5" y="729.9" font-size="27" text-anchor="middle" fill="#000" textLength="26.8" lengthAdjust="spacingAndGlyphs" >40</text>
<text x="605.4" y="729.9" font-size="27" text-anchor="middle" fill="#000" textLength="26.8" lengthAdjust="spacingAndGlyphs" >50</text>
<line x1="134" y1="447.7" x2="163.1" y2="447.7" stroke="#00ff00" stroke-width="4" />
<text x="167.4" y="454.7" font-size="26.3" text-anchor="start" fill="#000" textLength="98.2" lengthAdjust="spacingAndGlyphs" >Br=0.6 T</text>
<line x1="280.6" y1="447.7" x2="310.5" y2="447.7" stroke="#ff0000" stroke-width="4" />
<text x="317" y="454.7" font-size="26.3" text-anchor="start" fill="#000" textLength="94.5" lengthAdjust="spacingAndGlyphs" >Br=0.8 T</text>
<line x1="434.8" y1="447.7" x2="464" y2="447.7" stroke="#000" stroke-width="4" />
<text x="472.4" y="454.7" font-size="26.3" text-anchor="start" fill="#000" textLength="96.4" lengthAdjust="spacingAndGlyphs" >Br=1.0 T</text>
<text transform="translate(20.6 549.8) rotate(-90)" font-size="24.6" text-anchor="middle" fill="#000" textLength="151.6" lengthAdjust="spacingAndGlyphs">Envelope (mm)</text>
<text x="324" y="753" font-size="26.3" text-anchor="middle" fill="#000" textLength="78" lengthAdjust="spacingAndGlyphs" >z (mm)</text>
<text x="319" y="791.3" font-size="32" text-anchor="middle" fill="#000" textLength="38.6" lengthAdjust="spacingAndGlyphs" >(b)</text>
<g fill="none" stroke-linecap="butt">
<line x1="94.4" y1="853.9" x2="608" y2="853.9" stroke="#050505" stroke-width="2.6" />
<line x1="94.4" y1="1131.4" x2="608" y2="1131.4" stroke="#050505" stroke-width="2.6" />
<line x1="95.7" y1="853.9" x2="95.7" y2="1131.4" stroke="#050505" stroke-width="2.6" />
<line x1="606.7" y1="855.2" x2="606.7" y2="1135.1" stroke="#0000ff" stroke-width="2.6" />
<line x1="95.7" y1="851.9" x2="103.2" y2="851.9" stroke="#050505" stroke-width="2" />
<line x1="95.7" y1="886.77" x2="99.9" y2="886.77" stroke="#050505" stroke-width="2" />
<line x1="95.7" y1="921.65" x2="103.2" y2="921.65" stroke="#050505" stroke-width="2" />
<line x1="95.7" y1="956.52" x2="99.9" y2="956.52" stroke="#050505" stroke-width="2" />
<line x1="95.7" y1="991.4" x2="103.2" y2="991.4" stroke="#050505" stroke-width="2" />
<line x1="95.7" y1="1026.28" x2="99.9" y2="1026.28" stroke="#050505" stroke-width="2" />
<line x1="95.7" y1="1061.15" x2="103.2" y2="1061.15" stroke="#050505" stroke-width="2" />
<line x1="95.7" y1="1096.03" x2="99.9" y2="1096.03" stroke="#050505" stroke-width="2" />
<line x1="152.65" y1="1131.4" x2="152.65" y2="1123.9" stroke="#050505" stroke-width="2" />
<line x1="209.4" y1="1131.4" x2="209.4" y2="1127.2" stroke="#050505" stroke-width="2" />
<line x1="266.15" y1="1131.4" x2="266.15" y2="1123.9" stroke="#050505" stroke-width="2" />
<line x1="322.9" y1="1131.4" x2="322.9" y2="1127.2" stroke="#050505" stroke-width="2" />
<line x1="379.65" y1="1131.4" x2="379.65" y2="1123.9" stroke="#050505" stroke-width="2" />
<line x1="436.4" y1="1131.4" x2="436.4" y2="1127.2" stroke="#050505" stroke-width="2" />
<line x1="493.15" y1="1131.4" x2="493.15" y2="1123.9" stroke="#050505" stroke-width="2" />
<line x1="549.9" y1="1131.4" x2="549.9" y2="1127.2" stroke="#050505" stroke-width="2" />
<line x1="606.7" y1="869.7" x2="598.9" y2="869.7" stroke="#0000ff" stroke-width="2" />
<line x1="606.7" y1="900.75" x2="602.3" y2="900.75" stroke="#0000ff" stroke-width="2" />
<line x1="606.7" y1="931.8" x2="598.9" y2="931.8" stroke="#0000ff" stroke-width="2" />
<line x1="606.7" y1="962.85" x2="602.3" y2="962.85" stroke="#0000ff" stroke-width="2" />
<line x1="606.7" y1="993.9" x2="598.9" y2="993.9" stroke="#0000ff" stroke-width="2" />
<line x1="606.7" y1="1024.95" x2="602.3" y2="1024.95" stroke="#0000ff" stroke-width="2" />
<line x1="606.7" y1="1056" x2="598.9" y2="1056" stroke="#0000ff" stroke-width="2" />
<line x1="606.7" y1="1087.05" x2="602.3" y2="1087.05" stroke="#0000ff" stroke-width="2" />
<line x1="606.7" y1="1118.1" x2="598.9" y2="1118.1" stroke="#0000ff" stroke-width="2" />
</g>
<clipPath id="clipc"><rect x="96.4" y="855" width="509.2" height="275.3"/></clipPath>
<g clip-path="url(#clipc)" fill="none" stroke-linejoin="round">
<path d="M93 862.5 L121 926.9 L132 949.3 L139 963.4 L141.6 967.2 L143.4 968.6 L149.76 960.79 L158.33 947.36 L167.8 933.01 L173.48 928.17 L179.16 935.84 L185.73 952.11 L190.42 964.63 L196.69 967.16 L202.77 959.78 L208.45 948.37 L216.03 939.68 L219.22 936.85 L226.79 931.4 L233.47 933.42 L239.15 948.37 L244.83 961.4 L250.51 962.71 L256.19 951.2 L267.45 942.21 L277.91 940.99 L285.48 937.76 L290.17 941.6 L297.74 955.04 L303.42 956.35 L309.1 947.36 L315.68 939.68 L326.14 944.53 L333.71 948.37 L338.79 943.52 L345.47 938.77 L351.15 943.52 L360.62 946.75 L368.09 937.76 L375.76 945.44 L387.02 954.02 L392.7 952.11 L398.38 943.52 L404.06 933.01 L411.64 939.68 L417.32 942.51 L425.89 942.21 L430.57 947.36 L438.14 957.86 L445.72 961.7 L450.4 954.02 L457.28 934.43 L464.05 929.58 L470.73 939.68 L476.41 946.45 L481.09 948.37 L487.67 956.95 L494.35 963.62 L498.13 966.55 L505.71 948.37 L511.39 933.01 L516.07 927.66 L522.75 933.01 L529.32 947.36 L535 954.02 L539.79 956.95 L546.36 967.26 L552.44 968.67 L557.92 955.04 L563.9 938.27 L569.88 928.57 L576.36 930.39 L582.24 946.15 L588.02 959.48 L593.89 966.05 L599.67 964.63 L604.06 961.7 L606.95 957.96" stroke="#ff0000" stroke-width="6.1"/>
<path d="M93 1120.3 L121 1055.9 L132 1033.5 L139 1019.4 L141.6 1015.6 L143.4 1014.2 L149.76 1022.01 L158.33 1035.44 L167.8 1049.79 L173.48 1054.63 L179.16 1046.96 L185.73 1030.69 L190.42 1018.17 L196.69 1015.64 L202.77 1023.02 L208.45 1034.43 L216.03 1043.12 L219.22 1045.95 L226.79 1051.4 L233.47 1049.38 L239.15 1034.43 L244.83 1021.4 L250.51 1020.09 L256.19 1031.6 L267.45 1040.59 L277.91 1041.81 L285.48 1045.04 L290.17 1041.2 L297.74 1027.76 L303.42 1026.45 L309.1 1035.44 L315.68 1043.12 L326.14 1038.27 L333.71 1034.43 L338.79 1039.28 L345.47 1044.03 L351.15 1039.28 L360.62 1036.05 L368.09 1045.04 L375.76 1037.36 L387.02 1028.78 L392.7 1030.69 L398.38 1039.28 L404.06 1049.79 L411.64 1043.12 L417.32 1040.29 L425.89 1040.59 L430.57 1035.44 L438.14 1024.94 L445.72 1021.1 L450.4 1028.78 L457.28 1048.37 L464.05 1053.22 L470.73 1043.12 L476.41 1036.35 L481.09 1034.43 L487.67 1025.85 L494.35 1019.18 L498.13 1016.25 L505.71 1034.43 L511.39 1049.79 L516.07 1055.14 L522.75 1049.79 L529.32 1035.44 L535 1028.78 L539.79 1025.85 L546.36 1015.54 L552.44 1014.13 L557.92 1027.76 L563.9 1044.53 L569.88 1054.23 L576.36 1052.41 L582.24 1036.65 L588.02 1023.32 L593.89 1016.75 L599.67 1018.17 L604.06 1021.1 L606.95 1024.84" stroke="#ff0000" stroke-width="6.1"/>
<path d="M100.9 993.6 L103.5 994.3 L105.5 996 L107 1000 L108 1008 L109.3 1020 L111 1031 L113.5 1036 L116.7 1037.5 L120 1037 L123 1036 L125 1034.5 L127.7 1024.3 L128.5 1014.8 L129.4 1005 L131 998.5 L132.4 994.6 L133.45 993.4 L133.95 989.91 L134.45 986.41 L134.95 982.55 L135.45 977.11 L135.95 971.67 L136.45 963.36 L136.95 953.78 L137.45 944.8 L137.95 936.1 L138.45 928.11 L138.95 920.26 L139.45 912.69 L139.95 907.52 L140.45 903.74 L140.95 901.68 L141.45 899.71 L141.95 898.56 L142.45 897.74 L142.95 896.92 L143.45 896.33 L143.95 896.19 L144.45 896.05 L144.95 895.91 L145.45 895.77 L145.95 895.63 L146.45 895.49 L146.95 895.35 L147.45 895.21 L147.95 895.33 L148.45 895.47 L148.95 895.61 L149.45 895.75 L149.95 895.88 L150.45 896.02 L150.95 896.16 L151.45 896.3 L151.95 896.76 L152.45 897.58 L152.95 898.39 L153.45 899.32 L153.95 901.29 L154.45 903.25 L154.95 906.77 L155.45 911.17 L155.95 918.74 L156.45 926.51 L156.95 934.5 L157.45 943 L157.95 951.99 L158.45 961.41 L158.95 970.59 L159.45 976.02 L159.95 981.46 L160.45 985.71 L160.95 989.21 L161.45 992.7 L161.95 996.56 L162.45 1000.51 L162.95 1004.46 L163.45 1010.53 L163.95 1016.68 L164.45 1024.85 L164.95 1035.92 L165.45 1046.08 L165.95 1056.22 L166.45 1065.25 L166.95 1074.27 L167.45 1082.83 L167.95 1090 L168.45 1094.28 L168.95 1097.27 L169.45 1099.49 L169.95 1101.25 L170.45 1102.17 L170.95 1103.09 L171.45 1104.01 L171.95 1104.21 L172.45 1104.36 L172.95 1104.52 L173.45 1104.68 L173.95 1104.84 L174.45 1105 L174.95 1105.16 L175.45 1105.31 L175.95 1105.33 L176.45 1105.17 L176.95 1105.01 L177.45 1104.85 L177.95 1104.7 L178.45 1104.54 L178.95 1104.38 L179.45 1104.22 L179.95 1104.06 L180.45 1103.18 L180.95 1102.26 L181.45 1101.34 L181.95 1099.71 L182.45 1097.49 L182.95 1094.7 L183.45 1090.42 L183.95 1083.69 L184.45 1075.13 L184.95 1066.16 L185.45 1057.13 L185.95 1047.09 L186.45 1036.94 L186.95 1025.96 L187.45 1017.29 L187.95 1011.14 L188.45 1005 L188.95 1000.91 L189.45 996.96 L189.95 993.01 L190.45 989.11 L190.95 985.21 L191.45 980.73 L191.95 974.66 L192.45 968.59 L192.95 959.06 L193.45 948.4 L193.95 938.37 L194.45 928.69 L194.95 919.77 L195.45 911 L195.95 902.55 L196.45 896.74 L196.95 892.52 L197.45 890.17 L197.95 887.98 L198.45 886.63 L198.95 885.72 L199.45 884.81 L199.95 884.09 L200.45 883.93 L200.95 883.78 L201.45 883.62 L201.95 883.46 L202.45 883.31 L202.95 883.15 L203.45 883 L203.95 882.84 L204.45 882.92 L204.95 883.07 L205.45 883.23 L205.95 883.39 L206.45 883.54 L206.95 883.7 L207.45 883.85 L207.95 884.01 L208.45 884.35 L208.95 885.26 L209.45 886.17 L209.95 887.08 L210.45 889.07 L210.95 891.27 L211.45 894.63 L211.95 898.86 L212.45 906.78 L212.95 915.31 L213.45 924.23 L213.95 933.35 L214.45 943.39 L214.95 953.6 L215.45 964.52 L215.95 971.63 L216.45 977.7 L216.95 983.26 L217.45 987.16 L217.95 991.06 L218.45 994.98 L218.95 998.93 L219.45 1002.88 L219.95 1008.07 L220.45 1014.22 L220.95 1020.43 L221.45 1031.49 L221.95 1042.01 L222.45 1052.17 L222.95 1061.64 L223.45 1070.67 L223.95 1079.41 L224.45 1087.97 L224.95 1092.56 L225.45 1096.38 L225.95 1098.6 L226.45 1100.82 L226.95 1101.8 L227.45 1102.72 L227.95 1103.65 L228.45 1104.14 L228.95 1104.3 L229.45 1104.46 L229.95 1104.62 L230.45 1104.78 L230.95 1104.93 L231.45 1105.09 L231.95 1105.25 L232.45 1105.39 L232.95 1105.23 L233.45 1105.08 L233.95 1104.92 L234.45 1104.76 L234.95 1104.6 L235.45 1104.44 L235.95 1104.29 L236.45 1104.13 L236.95 1103.55 L237.45 1102.63 L237.95 1101.71 L238.45 1100.6 L238.95 1098.38 L239.45 1096.16 L239.95 1092.14 L240.45 1087.11 L240.95 1078.55 L241.45 1069.77 L241.95 1060.74 L242.45 1051.16 L242.95 1041 L243.45 1030.38 L243.95 1019.75 L244.45 1013.6 L244.95 1007.46 L245.45 1002.49 L245.95 998.54 L246.45 994.59 L246.95 990.67 L247.45 986.77 L247.95 982.87 L248.45 977.09 L248.95 971.02 L249.45 963.43 L249.95 952.51 L250.45 942.38 L250.95 932.35 L251.45 923.34 L251.95 914.42 L252.45 905.93 L252.95 898.43 L253.45 894.21 L253.95 891.05 L254.45 888.85 L254.95 886.99 L255.45 886.08 L255.95 885.17 L256.45 884.26 L256.95 883.99 L257.45 883.84 L257.95 883.68 L258.45 883.53 L258.95 883.37 L259.45 883.21 L259.95 883.06 L260.45 882.9 L260.95 882.85 L261.45 883.01 L261.95 883.17 L262.45 883.32 L262.95 883.48 L263.45 883.63 L263.95 883.79 L264.45 883.95 L264.95 884.1 L265.45 884.9 L265.95 885.81 L266.45 886.72 L266.95 888.2 L267.45 890.39 L267.95 892.94 L268.45 897.17 L268.95 903.4 L269.45 911.85 L269.95 920.66 L270.45 929.58 L270.95 939.37 L271.45 949.41 L271.95 960.15 L272.45 969.2 L272.95 975.27 L273.45 981.34 L273.95 985.6 L274.45 989.5 L274.95 993.4 L275.45 997.33 L275.95 1001.27 L276.45 1005.56 L276.95 1011.68 L277.45 1017.8 L277.95 1026.92 L278.45 1037.75 L278.95 1047.87 L279.45 1057.74 L279.95 1066.73 L280.45 1075.61 L280.95 1084.14 L281.45 1090.42 L281.95 1094.68 L282.45 1097.25 L282.95 1099.46 L283.45 1100.95 L283.95 1101.87 L284.45 1102.79 L284.95 1103.59 L285.45 1103.74 L285.95 1103.9 L286.45 1104.06 L286.95 1104.22 L287.45 1104.37 L287.95 1104.53 L288.45 1104.69 L288.95 1104.84 L289.45 1104.8 L289.95 1104.64 L290.45 1104.48 L290.95 1104.33 L291.45 1104.17 L291.95 1104.01 L292.45 1103.85 L292.95 1103.7 L293.45 1103.43 L293.95 1102.51 L294.45 1101.59 L294.95 1100.68 L295.45 1098.8 L295.95 1096.58 L296.45 1093.4 L296.95 1089.14 L297.45 1081.58 L297.95 1073.02 L298.45 1064.03 L298.95 1054.94 L299.45 1044.83 L299.95 1034.62 L300.45 1023.61 L300.95 1015.96 L301.45 1009.84 L301.95 1004.02 L302.45 1000.09 L302.95 996.15 L303.45 992.22 L303.95 988.3 L304.45 984.37 L304.95 979.43 L305.45 973.32 L305.95 967.22 L306.45 956.65 L306.95 946.1 L307.45 936 L307.95 926.48 L308.45 917.51 L308.95 908.78 L309.45 900.28 L309.95 895.28 L310.45 891.28 L310.95 889.08 L311.45 886.87 L311.95 885.77 L312.45 884.85 L312.95 883.93 L313.45 883.36 L313.95 883.21 L314.45 883.05 L314.95 882.89 L315.45 882.74 L315.95 882.58 L316.45 882.42 L316.95 882.26 L317.45 882.11 L317.95 882.25 L318.45 882.41 L318.95 882.56 L319.45 882.72 L319.95 882.88 L320.45 883.03 L320.95 883.19 L321.45 883.35 L321.95 883.84 L322.45 884.76 L322.95 885.68 L323.45 886.65 L323.95 888.86 L324.45 891.06 L324.95 894.86 L325.45 899.42 L325.95 907.93 L326.45 916.61 L326.95 925.58 L327.45 934.99 L327.95 945.09 L328.45 955.55 L328.95 966.54 L329.45 972.71 L329.95 978.82 L330.45 983.98 L330.95 987.9 L331.45 991.83 L331.95 995.76 L332.45 999.69 L332.95 1003.63 L333.45 1009.23 L333.95 1015.35 L334.45 1022.51 L334.95 1033.52 L335.45 1043.82 L335.95 1053.93 L336.45 1063.14 L336.95 1072.12 L337.45 1080.73 L337.95 1088.71 L338.45 1092.97 L338.95 1096.36 L339.45 1098.58 L339.95 1100.58 L340.45 1101.5 L340.95 1102.42 L341.45 1103.34 L341.95 1103.68 L342.45 1103.84 L342.95 1104 L343.45 1104.15 L343.95 1104.31 L344.45 1104.47 L344.95 1104.62 L345.45 1104.78 L345.95 1104.86 L346.45 1104.7 L346.95 1104.55 L347.45 1104.39 L347.95 1104.23 L348.45 1104.07 L348.95 1103.92 L349.45 1103.76 L349.95 1103.6 L350.45 1102.88 L350.95 1101.96 L351.45 1101.04 L351.95 1099.68 L352.45 1097.47 L352.95 1095.1 L353.45 1090.84 L353.95 1084.99 L354.45 1076.47 L354.95 1067.63 L355.45 1058.64 L355.95 1048.88 L356.45 1038.76 L356.95 1028.02 L357.45 1018.41 L357.95 1012.29 L358.45 1006.17 L358.95 1001.66 L359.45 997.73 L359.95 993.79 L360.45 989.9 L360.95 986 L361.45 981.97 L361.95 975.91 L362.45 969.85 L362.95 961.3 L363.45 950.49 L363.95 940.47 L364.45 930.58 L364.95 921.68 L365.45 912.84 L365.95 904.4 L366.45 897.76 L366.95 893.54 L367.45 890.8 L367.95 888.61 L368.45 887 L368.95 886.09 L369.45 885.18 L369.95 884.32 L370.45 884.16 L370.95 884 L371.45 883.85 L371.95 883.69 L372.45 883.54 L372.95 883.38 L373.45 883.23 L373.95 883.07 L374.45 883.09 L374.95 883.24 L375.45 883.4 L375.95 883.55 L376.45 883.71 L376.95 883.86 L377.45 884.02 L377.95 884.18 L378.45 884.37 L378.95 885.27 L379.45 886.18 L379.95 887.09 L380.45 888.82 L380.95 891.01 L381.45 893.97 L381.95 898.18 L382.45 905.25 L382.95 913.68 L383.45 922.57 L383.95 931.47 L384.45 941.47 L384.95 951.49 L385.45 962.4 L385.95 970.46 L386.45 976.51 L386.95 982.5 L387.45 986.39 L387.95 990.28 L388.45 994.2 L388.95 998.21 L389.45 1002.22 L389.95 1007.04 L390.45 1013.27 L390.95 1019.5 L391.45 1029.79 L391.95 1040.65 L392.45 1050.95 L392.95 1060.78 L393.45 1069.94 L393.95 1078.9 L394.45 1087.58 L394.95 1093.11 L395.45 1097.4 L395.95 1099.65 L396.45 1101.91 L396.95 1103.16 L397.45 1104.1 L397.95 1105.03 L398.45 1105.69 L398.95 1105.85 L399.45 1106.01 L399.95 1106.17 L400.45 1106.33 L400.95 1106.5 L401.45 1106.66 L401.95 1106.82 L402.45 1106.98 L402.95 1106.86 L403.45 1106.7 L403.95 1106.54 L404.45 1106.38 L404.95 1106.22 L405.45 1106.06 L405.95 1105.9 L406.45 1105.74 L406.95 1105.31 L407.45 1104.38 L407.95 1103.44 L408.45 1102.51 L408.95 1100.33 L409.45 1098.08 L409.95 1094.41 L410.45 1090.07 L410.95 1081.5 L411.45 1072.69 L411.95 1063.53 L412.45 1054.04 L412.95 1043.74 L413.45 1033.16 L413.95 1021.94 L414.45 1015.14 L414.95 1008.91 L415.45 1003.42 L415.95 999.41 L416.45 995.4 L416.95 991.47 L417.45 987.62 L417.95 983.77 L418.45 978.5 L418.95 972.5 L419.45 965.97 L419.95 955.18 L420.45 945.01 L420.95 935.11 L421.45 925.98 L421.95 917.18 L422.45 908.71 L422.95 900.47 L423.45 896.3 L423.95 892.78 L424.45 890.61 L424.95 888.52 L425.45 887.62 L425.95 886.72 L426.45 885.82 L426.95 885.41 L427.45 885.26 L427.95 885.1 L428.45 884.95 L428.95 884.79 L429.45 884.64 L429.95 884.49 L430.45 884.33 L430.95 884.22 L431.45 884.38 L431.95 884.53 L432.45 884.69 L432.95 884.84 L433.45 884.99 L433.95 885.15 L434.45 885.3 L434.95 885.46 L435.45 886.09 L435.95 886.99 L436.45 887.89 L436.95 889.09 L437.45 891.26 L437.95 893.43 L438.45 897.55 L438.95 902.87 L439.45 911.21 L439.95 919.82 L440.45 928.63 L440.95 938.08 L441.45 947.98 L441.95 958.42 L442.45 968.31 L442.95 974.3 L443.45 980.29 L443.95 984.93 L444.45 988.78 L444.95 992.63 L445.45 996.66 L445.95 1000.73 L446.45 1004.8 L446.95 1011.05 L447.45 1017.38 L447.95 1025.81 L448.45 1037.21 L448.95 1047.68 L449.45 1058.13 L449.95 1067.44 L450.45 1076.73 L450.95 1085.55 L451.45 1092.93 L451.95 1097.34 L452.45 1100.42 L452.95 1102.71 L453.45 1104.52 L453.95 1105.47 L454.45 1106.42 L454.95 1107.37 L455.45 1107.57 L455.95 1107.73 L456.45 1107.9 L456.95 1108.06 L457.45 1108.22 L457.95 1108.38 L458.45 1108.55 L458.95 1108.71 L459.45 1108.73 L459.95 1108.56 L460.45 1108.4 L460.95 1108.24 L461.45 1108.08 L461.95 1107.91 L462.45 1107.75 L462.95 1107.59 L463.45 1107.42 L463.95 1106.52 L464.45 1105.57 L464.95 1104.62 L465.45 1102.94 L465.95 1100.65 L466.45 1097.78 L466.95 1093.37 L467.45 1086.43 L467.95 1077.61 L468.45 1068.37 L468.95 1059.06 L469.45 1048.72 L469.95 1038.26 L470.45 1026.95 L470.95 1018.02 L471.45 1011.68 L471.95 1005.35 L472.45 1001.13 L472.95 997.06 L473.45 993.02 L473.95 989.24 L474.45 985.47 L474.95 981.13 L475.45 975.26 L475.95 969.38 L476.45 960.15 L476.95 949.83 L477.45 940.11 L477.95 930.73 L478.45 922.1 L478.95 913.61 L479.45 905.43 L479.95 899.8 L480.45 895.71 L480.95 893.44 L481.45 891.31 L481.95 890 L482.45 889.12 L482.95 888.24 L483.45 887.55 L483.95 887.4 L484.45 887.24 L484.95 887.09 L485.45 886.94 L485.95 886.79 L486.45 886.64 L486.95 886.49 L487.45 886.34 L487.95 886.41 L488.45 886.56 L488.95 886.72 L489.45 886.87 L489.95 887.02 L490.45 887.17 L490.95 887.32 L491.45 887.47 L491.95 887.8 L492.45 888.68 L492.95 889.56 L493.45 890.45 L493.95 892.38 L494.45 894.5 L494.95 897.76 L495.45 901.85 L495.95 909.52 L496.45 917.78 L496.95 926.42 L497.45 935.26 L497.95 944.97 L498.45 954.86 L498.95 965.44 L499.45 972.32 L499.95 978.19 L500.45 983.58 L500.95 987.36 L501.45 991.13 L501.95 995.05 L502.45 999.19 L502.95 1003.32 L503.45 1008.75 L503.95 1015.18 L504.45 1021.68 L504.95 1033.26 L505.45 1044.27 L505.95 1054.9 L506.45 1064.81 L506.95 1074.26 L507.45 1083.4 L507.95 1092.36 L508.45 1097.17 L508.95 1101.16 L509.45 1103.49 L509.95 1105.81 L510.45 1106.84 L510.95 1107.8 L511.45 1108.76 L511.95 1109.29 L512.45 1109.45 L512.95 1109.62 L513.45 1109.78 L513.95 1109.95 L514.45 1110.11 L514.95 1110.28 L515.45 1110.44 L515.95 1110.59 L516.45 1110.43 L516.95 1110.26 L517.45 1110.1 L517.95 1109.93 L518.45 1109.76 L518.95 1109.6 L519.45 1109.43 L519.95 1109.27 L520.45 1108.67 L520.95 1107.7 L521.45 1106.74 L521.95 1105.58 L522.45 1103.25 L522.95 1100.93 L523.45 1096.72 L523.95 1091.46 L524.45 1082.5 L524.95 1073.31 L525.45 1063.87 L525.95 1053.84 L526.45 1043.21 L526.95 1032.1 L527.45 1020.97 L527.95 1014.54 L528.45 1008.11 L528.95 1002.91 L529.45 998.77 L529.95 994.64 L530.45 990.83 L530.95 987.16 L531.45 983.5 L531.95 978.06 L532.45 972.36 L532.95 965.22 L533.45 954.95 L533.95 945.43 L534.45 935.99 L534.95 927.52 L535.45 919.13 L535.95 911.15 L536.45 904.1 L536.95 900.13 L537.45 897.16 L537.95 895.09 L538.45 893.34 L538.95 892.48 L539.45 891.63 L539.95 890.77 L540.45 890.52 L540.95 890.38 L541.45 890.23 L541.95 890.08 L542.45 889.94 L542.95 889.79 L543.45 889.64 L543.95 889.5 L544.45 889.45 L544.95 889.6 L545.45 889.74 L545.95 889.89 L546.45 890.04 L546.95 890.19 L547.45 890.33 L547.95 890.48 L548.45 890.63 L548.95 891.37 L549.45 892.23 L549.95 893.08 L550.45 894.47 L550.95 896.54 L551.45 898.94 L551.95 902.91 L552.45 908.77 L552.95 916.72 L553.45 925 L553.95 933.39 L554.45 942.6 L554.95 952.03 L555.45 962.14 L555.95 970.65 L556.45 976.35 L556.95 982.06 L557.45 986.06 L557.95 989.73 L558.45 993.4 L558.95 997.72 L559.45 1002.04 L559.95 1006.76 L560.45 1013.48 L560.95 1020.2 L561.45 1030.22 L561.95 1042.13 L562.45 1053.24 L562.95 1064.09 L563.45 1073.97 L563.95 1083.73 L564.45 1093.09 L564.95 1099.99 L565.45 1104.67 L565.95 1107.49 L566.45 1109.92 L566.95 1111.56 L567.45 1112.57 L567.95 1113.58 L568.45 1114.46 L568.95 1114.63 L569.45 1114.8 L569.95 1114.98 L570.45 1115.15 L570.95 1115.32 L571.45 1115.49 L571.95 1115.67 L572.45 1115.84 L572.95 1115.79 L573.45 1115.61 L573.95 1115.44 L574.45 1115.27 L574.95 1115.1 L575.45 1114.92 L575.95 1114.75 L576.45 1114.58 L576.95 1114.28 L577.45 1113.28 L577.95 1112.27 L578.45 1111.26 L578.95 1109.19 L579.45 1106.76 L579.95 1103.26 L580.45 1098.58 L580.95 1090.28 L581.45 1080.88 L581.95 1071 L582.45 1061.02 L582.95 1049.91 L583.45 1038.69 L583.95 1026.59 L584.45 1018.19 L584.95 1011.46 L585.45 1005.07 L585.95 1000.75 L586.45 996.42 L586.95 992.39 L587.45 989.02 L587.95 985.65 L588.45 981.41 L588.95 976.17 L589.45 970.93 L589.95 961.86 L590.45 952.81 L590.95 944.15 L591.45 935.98 L591.95 928.28 L592.45 920.79 L592.95 913.49 L593.45 909.21 L593.95 905.78 L594.45 903.89 L594.95 901.99 L595.45 901.05 L595.95 900.26 L596.45 899.47 L596.95 898.98 L597.45 898.85 L597.95 898.72 L598.45 898.58 L598.95 898.45 L599.45 898.31 L599.95 898.18 L600.45 898.04 L600.95 897.91 L601.45 898.03 L601.95 898.16 L602.45 898.3 L602.95 898.43 L603.45 898.57 L603.95 898.7 L604.45 898.84 L604.95 898.97 L605.45 899.4 L605.95 900.18 L606.45 900.97 L606.95 901.8" stroke="#0000ff" stroke-width="3.7" stroke-dasharray="9 9.5 0.01 9.5" stroke-linecap="round"/>
</g>
<text x="87.2" y="860.2" font-size="27" text-anchor="end" fill="#000" textLength="46.4" lengthAdjust="spacingAndGlyphs" >0.10</text>
<text x="87.2" y="929.95" font-size="27" text-anchor="end" fill="#000" textLength="46.4" lengthAdjust="spacingAndGlyphs" >0.05</text>
<text x="87.2" y="999.7" font-size="27" text-anchor="end" fill="#000" textLength="46.4" lengthAdjust="spacingAndGlyphs" >0.00</text>
<text x="87.2" y="1069.45" font-size="27" text-anchor="end" fill="#000" textLength="55" lengthAdjust="spacingAndGlyphs" >-0.05</text>
<text x="87.2" y="1139.2" font-size="27" text-anchor="end" fill="#000" textLength="55" lengthAdjust="spacingAndGlyphs" >-0.10</text>
<text x="151.35" y="1160" font-size="27" text-anchor="middle" fill="#000" textLength="26.8" lengthAdjust="spacingAndGlyphs" >10</text>
<text x="264.85" y="1160" font-size="27" text-anchor="middle" fill="#000" textLength="26.8" lengthAdjust="spacingAndGlyphs" >20</text>
<text x="378.35" y="1160" font-size="27" text-anchor="middle" fill="#000" textLength="26.8" lengthAdjust="spacingAndGlyphs" >30</text>
<text x="491.85" y="1160" font-size="27" text-anchor="middle" fill="#000" textLength="26.8" lengthAdjust="spacingAndGlyphs" >40</text>
<text x="605.35" y="1160" font-size="27" text-anchor="middle" fill="#000" textLength="26.8" lengthAdjust="spacingAndGlyphs" >50</text>
<text x="614.7" y="877.7" font-size="27" text-anchor="start" fill="#0000ff" textLength="33" lengthAdjust="spacingAndGlyphs" >0.8</text>
<text x="614.7" y="939.8" font-size="27" text-anchor="start" fill="#0000ff" textLength="33" lengthAdjust="spacingAndGlyphs" >0.4</text>
<text x="614.7" y="1001.9" font-size="27" text-anchor="start" fill="#0000ff" textLength="33" lengthAdjust="spacingAndGlyphs" >0.0</text>
<text x="614.7" y="1064" font-size="27" text-anchor="start" fill="#0000ff" textLength="41" lengthAdjust="spacingAndGlyphs" >-0.4</text>
<text x="614.7" y="1126.1" font-size="27" text-anchor="start" fill="#0000ff" textLength="41" lengthAdjust="spacingAndGlyphs" >-0.8</text>
<line x1="125.8" y1="830.9" x2="191.1" y2="830.9" stroke="#ff0000" stroke-width="4.6" />
<text x="196" y="840.4" font-size="26.3" text-anchor="start" fill="#000" textLength="169.2" lengthAdjust="spacingAndGlyphs" >Envelope (mm)</text>
<path d="M398.2 830.9 H459" fill="none" stroke="#0000ff" stroke-width="3.9" stroke-dasharray="9.9 9.9 0.01 9.6" stroke-linecap="round"/>
<text x="466.2" y="840.4" font-size="26.3" text-anchor="start" fill="#000" textLength="123.4" lengthAdjust="spacingAndGlyphs" >B-Field (T)</text>
<text transform="translate(18 989.6) rotate(-90)" font-size="25.3" text-anchor="middle" fill="#000" textLength="161.5" lengthAdjust="spacingAndGlyphs">Envelope (mm)</text>
<text transform="translate(666.9 1001.8) rotate(90)" font-size="25.3" text-anchor="middle" fill="#0000ff" textLength="112.4" lengthAdjust="spacingAndGlyphs">B-field (T)</text>
<text x="320.5" y="1184.6" font-size="26.3" text-anchor="middle" fill="#000" textLength="79" lengthAdjust="spacingAndGlyphs" >z (mm)</text>
<text x="319" y="1215.2" font-size="32" text-anchor="middle" fill="#000" textLength="36.6" lengthAdjust="spacingAndGlyphs" >(c)</text>
</svg>
</body></html>
